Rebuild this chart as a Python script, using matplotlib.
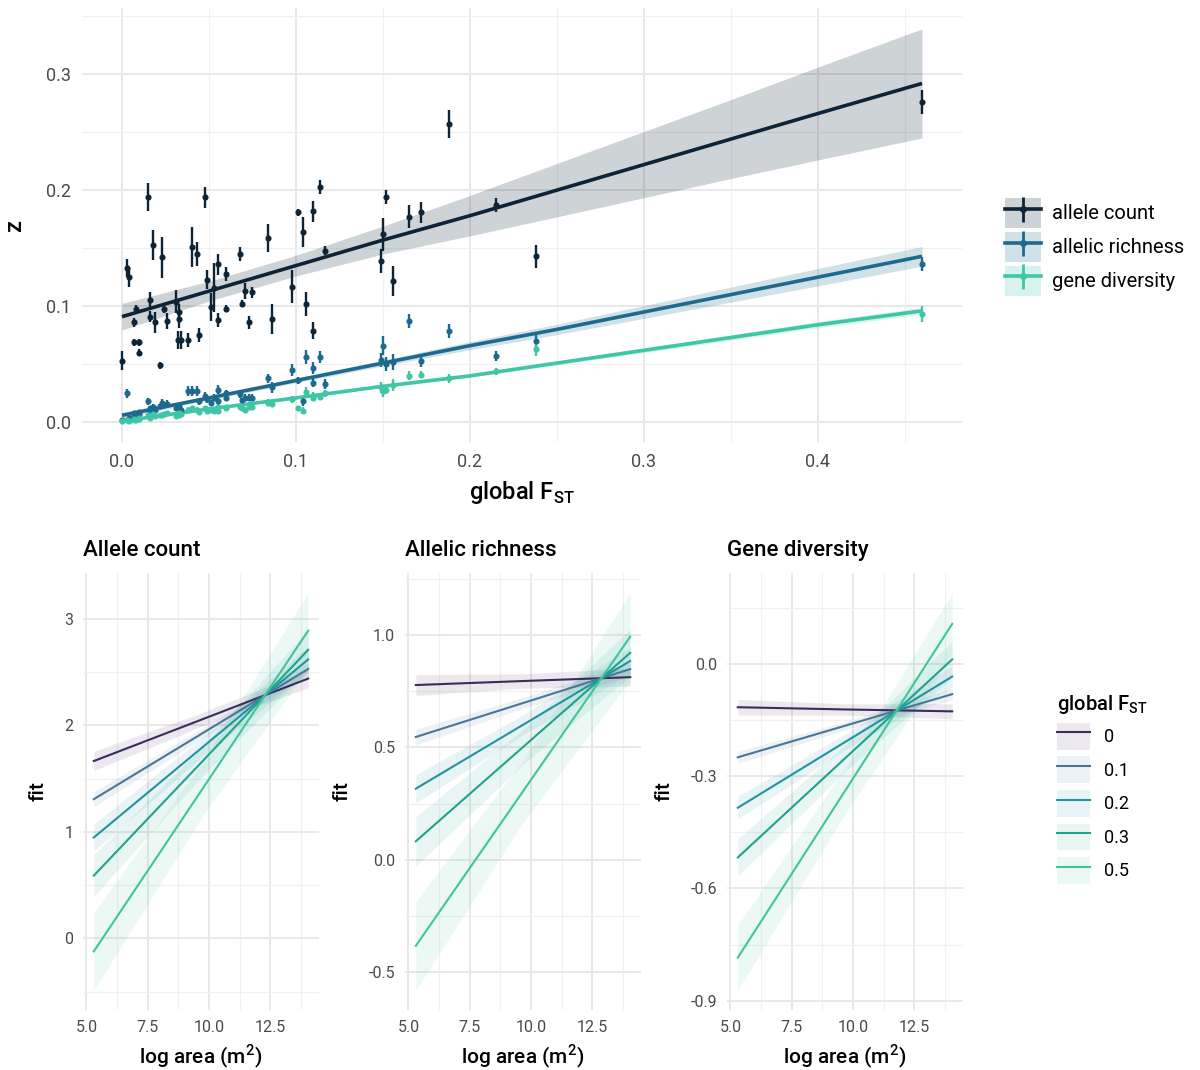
import matplotlib
matplotlib.use("Agg")
import matplotlib.pyplot as plt
from matplotlib.lines import Line2D
from matplotlib.patches import Patch
from matplotlib.ticker import MultipleLocator

plt.rcParams["font.family"] = ["Roboto", "DejaVu Sans"]

# ---- top panel data: z against global FST ----
fst = [0.000, 0.003, 0.004, 0.007, 0.007, 0.010, 0.008, 0.010, 0.015, 0.016,
       0.016, 0.018, 0.019, 0.022, 0.023, 0.024, 0.026, 0.031, 0.032, 0.033,
       0.033, 0.034, 0.038, 0.040, 0.043, 0.044, 0.048, 0.049, 0.051, 0.053,
       0.055, 0.055, 0.060, 0.060, 0.068, 0.069, 0.071, 0.073, 0.075, 0.084,
       0.086, 0.098, 0.101, 0.104, 0.106, 0.110, 0.110, 0.114, 0.117, 0.149,
       0.150, 0.152, 0.156, 0.165, 0.172, 0.188, 0.215, 0.238, 0.460]

z_count = [0.053, 0.133, 0.125, 0.086, 0.069, 0.069, 0.098, 0.060, 0.194, 0.105,
           0.091, 0.153, 0.086, 0.049, 0.142, 0.098, 0.087, 0.104, 0.071, 0.095,
           0.089, 0.071, 0.071, 0.151, 0.145, 0.075, 0.194, 0.123, 0.099, 0.116,
           0.136, 0.088, 0.128, 0.098, 0.145, 0.102, 0.113, 0.086, 0.112, 0.159,
           0.089, 0.117, 0.181, 0.164, 0.102, 0.182, 0.079, 0.203, 0.148, 0.139,
           0.162, 0.194, 0.122, 0.177, 0.181, 0.257, 0.187, 0.143, 0.276]
err_count = [0.008, 0.008, 0.008, 0.004, 0.003, 0.003, 0.003, 0.003, 0.012, 0.007,
             0.005, 0.013, 0.009, 0.003, 0.018, 0.004, 0.007, 0.010, 0.008, 0.007,
             0.008, 0.008, 0.006, 0.017, 0.010, 0.006, 0.009, 0.008, 0.012, 0.021,
             0.009, 0.006, 0.006, 0.003, 0.006, 0.003, 0.007, 0.006, 0.005, 0.012,
             0.013, 0.014, 0.003, 0.013, 0.010, 0.009, 0.007, 0.006, 0.004, 0.010,
             0.014, 0.006, 0.013, 0.010, 0.009, 0.012, 0.006, 0.010, 0.010]

z_rich = [0.002, 0.025, 0.004, 0.006, 0.008, 0.007, 0.005, 0.009, 0.018, 0.010,
          0.012, 0.013, 0.011, 0.014, 0.017, 0.015, 0.016, 0.012, 0.013, 0.012,
          0.014, 0.011, 0.027, 0.027, 0.027, 0.018, 0.023, 0.020, 0.017, 0.021,
          0.028, 0.018, 0.025, 0.021, 0.024, 0.019, 0.021, 0.021, 0.021, 0.038,
          0.030, 0.045, 0.036, 0.018, 0.056, 0.047, 0.034, 0.056, 0.033, 0.054,
          0.066, 0.050, 0.052, 0.087, 0.053, 0.079, 0.057, 0.070, 0.136]
err_rich = [0.002, 0.004, 0.002, 0.002, 0.002, 0.002, 0.002, 0.002, 0.003, 0.002,
            0.002, 0.003, 0.002, 0.002, 0.003, 0.002, 0.003, 0.002, 0.002, 0.002,
            0.003, 0.002, 0.004, 0.004, 0.004, 0.003, 0.003, 0.003, 0.002, 0.003,
            0.004, 0.003, 0.003, 0.002, 0.003, 0.002, 0.003, 0.003, 0.003, 0.004,
            0.005, 0.005, 0.003, 0.004, 0.006, 0.005, 0.004, 0.005, 0.004, 0.006,
            0.008, 0.006, 0.007, 0.006, 0.005, 0.006, 0.004, 0.006, 0.006]

z_gene = [0.001, 0.002, 0.001, 0.002, 0.003, 0.003, 0.002, 0.004, 0.006, 0.004,
          0.005, 0.007, 0.005, 0.006, 0.006, 0.007, 0.008, 0.005, 0.007, 0.006,
          0.008, 0.007, 0.011, 0.012, 0.011, 0.009, 0.012, 0.010, 0.011, 0.010,
          0.013, 0.010, 0.012, 0.013, 0.013, 0.012, 0.011, 0.013, 0.013, 0.017,
          0.016, 0.020, 0.012, 0.010, 0.026, 0.023, 0.021, 0.022, 0.025, 0.030,
          0.027, 0.028, 0.032, 0.040, 0.041, 0.038, 0.044, 0.063, 0.093]
err_gene = [0.001, 0.001, 0.001, 0.001, 0.001, 0.001, 0.001, 0.001, 0.002, 0.001,
            0.001, 0.002, 0.001, 0.001, 0.002, 0.001, 0.002, 0.001, 0.001, 0.001,
            0.002, 0.001, 0.002, 0.002, 0.002, 0.002, 0.002, 0.002, 0.002, 0.002,
            0.002, 0.002, 0.002, 0.002, 0.002, 0.002, 0.002, 0.002, 0.002, 0.003,
            0.003, 0.003, 0.002, 0.003, 0.004, 0.003, 0.003, 0.003, 0.003, 0.005,
            0.005, 0.004, 0.005, 0.004, 0.003, 0.004, 0.003, 0.006, 0.007]

# regression lines + confidence ribbons (read at these FST values)
fit_x = [0.0, 0.05, 0.1, 0.15, 0.2, 0.25, 0.3, 0.35, 0.4, 0.46]
fit_count = [0.091, 0.113, 0.135, 0.157, 0.178, 0.200, 0.222, 0.244, 0.266, 0.292]
hw_count = [0.0115, 0.0085, 0.0089, 0.012, 0.0174, 0.023, 0.0285, 0.034, 0.040, 0.047]
fit_rich = [0.006, 0.021, 0.036, 0.051, 0.066, 0.080, 0.095, 0.110, 0.125, 0.143]
hw_rich = [0.0025, 0.0018, 0.002, 0.0025, 0.0035, 0.0045, 0.0055, 0.0065, 0.0075, 0.0085]
fit_gene = [0.001, 0.0115, 0.021, 0.031, 0.040, 0.051, 0.062, 0.073, 0.084, 0.096]
hw_gene = [0.0008, 0.0006, 0.0007, 0.0009, 0.0012, 0.0016, 0.002, 0.0024, 0.0027, 0.003]

series_names = ["allele count", "allelic richness", "gene diversity"]
series_cols = ["#0c2435", "#1d6a8e", "#3ec6a6"]

# ---- bottom panels: model fit against log area for several FST ----
fst_levels = ["0", "0.1", "0.2", "0.3", "0.5"]
fst_cols = ["#3b2c5c", "#4a7798", "#2493a0", "#1fa38e", "#42c49b"]
area_x = [5.3, 9.7, 14.04]

ac_fit = [[1.665, 2.055, 2.440], [1.307, 1.922, 2.530], [0.947, 1.789, 2.620],
          [0.589, 1.656, 2.710], [-0.123, 1.393, 2.890]]
ac_hw = [[0.090, 0.063, 0.085], [0.070, 0.048, 0.060], [0.127, 0.089, 0.120],
         [0.197, 0.138, 0.190], [0.364, 0.255, 0.355]]
ar_fit = [[0.777, 0.795, 0.812], [0.546, 0.698, 0.848], [0.316, 0.602, 0.884],
          [0.082, 0.504, 0.920], [-0.383, 0.309, 0.992]]
ar_hw = [[0.046, 0.032, 0.040], [0.035, 0.024, 0.030], [0.063, 0.044, 0.060],
         [0.110, 0.077, 0.105], [0.197, 0.138, 0.195]]
gd_fit = [[-0.115, -0.121, -0.126], [-0.249, -0.164, -0.080], [-0.384, -0.207, -0.033],
          [-0.517, -0.250, 0.013], [-0.785, -0.336, 0.108]]
gd_hw = [[0.021, 0.015, 0.020], [0.016, 0.011, 0.015], [0.030, 0.021, 0.029],
         [0.050, 0.035, 0.048], [0.087, 0.061, 0.083]]

panel_titles = ["Allele count", "Allelic richness", "Gene diversity"]
panel_yticks = [[0, 1, 2, 3], [-0.5, 0.0, 0.5, 1.0], [-0.9, -0.6, -0.3, 0.0]]
panel_fmt = ["{:.0f}", "{:.1f}", "{:.1f}"]

W, H = 1200, 1070
fig = plt.figure(figsize=(W / 100, H / 100), dpi=100)


def px_axes(left, top, right, bottom):
    return fig.add_axes([left / W, 1 - bottom / H, (right - left) / W, (bottom - top) / H])


def style_axes(ax):
    for s in ax.spines.values():
        s.set_visible(False)
    ax.grid(True, which="major", color="#e8e8e8", lw=1.4)
    ax.grid(True, which="minor", color="#f0f0f0", lw=0.9)
    ax.tick_params(which="both", length=0, colors="#4a4a4a")
    ax.set_axisbelow(True)


# ---------------- top plot ----------------
ax = px_axes(82, 8, 962, 442)
style_axes(ax)
ys = [z_count, z_rich, z_gene]
es = [err_count, err_rich, err_gene]
fits = [fit_count, fit_rich, fit_gene]
hws = [hw_count, hw_rich, hw_gene]
for y, e, f, hw, col in zip(ys, es, fits, hws, series_cols):
    lo = [a - b for a, b in zip(f, hw)]
    hi = [a + b for a, b in zip(f, hw)]
    ax.fill_between(fit_x, lo, hi, color=col, alpha=0.2, lw=0)
    ax.errorbar(fst, y, yerr=e, fmt="o", ms=3.4, color=col, elinewidth=1.7, capsize=0)
    ax.plot(fit_x, f, color=col, lw=2.6, solid_capstyle="butt")

ax.set_xlim(-0.023, 0.483)
ax.set_ylim(-0.017, 0.357)
ax.xaxis.set_minor_locator(MultipleLocator(0.05))
ax.yaxis.set_minor_locator(MultipleLocator(0.05))
ax.set_xticks([0, 0.1, 0.2, 0.3, 0.4])
ax.set_xticklabels(["0.0", "0.1", "0.2", "0.3", "0.4"], fontsize=13)
ax.set_yticks([0, 0.1, 0.2, 0.3])
ax.set_yticklabels(["0.0", "0.1", "0.2", "0.3"], fontsize=13)
ax.tick_params(axis="x", pad=8)
ax.tick_params(axis="y", pad=8)
ax.set_xlabel("global F$_\\mathregular{ST}$", fontsize=17, fontweight="medium", labelpad=6)
ax.set_ylabel("z", fontsize=17, fontweight="medium", labelpad=14)

handles = []
for col in series_cols:
    handles.append((Patch(facecolor=col, alpha=0.2, edgecolor="none"),
                    Line2D([], [], color=col, lw=2.6),
                    Line2D([], [], color=col, marker="|", ms=18, mew=2, ls="none"),
                    Line2D([], [], color=col, marker="o", ms=4, ls="none")))
leg = fig.legend(handles, series_names, loc="upper left", bbox_to_anchor=(995 / W, 1 - 188 / H),
                 frameon=False, fontsize=14.5, handlelength=1.8, handleheight=1.9,
                 labelspacing=0.2, handletextpad=0.55, borderpad=0)

# ---------------- bottom panels ----------------
panel_fits = [ac_fit, ar_fit, gd_fit]
panel_hws = [ac_hw, ar_hw, gd_hw]
panel_lefts = [83, 405, 727]
for i in range(3):
    bx = px_axes(panel_lefts[i], 573, panel_lefts[i] + 236, 1010)
    style_axes(bx)
    for f, hw, col in zip(panel_fits[i], panel_hws[i], fst_cols):
        lo = [a - b for a, b in zip(f, hw)]
        hi = [a + b for a, b in zip(f, hw)]
        bx.fill_between(area_x, lo, hi, color=col, alpha=0.1, lw=0)
        bx.plot(area_x, f, color=col, lw=1.5)
    bx.set_xlim(4.86, 14.48)
    bx.set_xticks([5.0, 7.5, 10.0, 12.5])
    bx.xaxis.set_minor_locator(MultipleLocator(1.25))
    bx.set_xticklabels(["5.0", "7.5", "10.0", "12.5"], fontsize=11.5)
    yt = panel_yticks[i]
    bx.set_yticks(yt)
    step = yt[1] - yt[0]
    bx.yaxis.set_minor_locator(MultipleLocator(step / 2))
    bx.set_yticklabels([panel_fmt[i].format(v) for v in yt], fontsize=11.5)
    bx.tick_params(axis="x", pad=7)
    bx.tick_params(axis="y", pad=7)
    bx.set_xlabel("log area (m$^\\mathregular{2}$)", fontsize=15, fontweight="medium", labelpad=6)
    bx.set_ylabel("fit", fontsize=15, fontweight="medium", labelpad=12)
    bx.set_title(panel_titles[i], loc="left", fontsize=16, fontweight="medium", pad=12)
    bx.margins(y=0.05)

handles2 = []
for col in fst_cols:
    handles2.append((Patch(facecolor=col, alpha=0.1, edgecolor="none"),
                     Line2D([], [], color=col, lw=1.5)))
leg2 = fig.legend(handles2, fst_levels, loc="upper left", bbox_to_anchor=(1048 / W, 1 - 684 / H),
                  frameon=False, fontsize=13, handlelength=1.8, handleheight=1.9,
                  labelspacing=0.38, handletextpad=0.8, borderpad=0,
                  title="global F$_\\mathregular{ST}$", title_fontsize=14.5, alignment="left")
leg2.get_title().set_fontweight("medium")

fig.savefig("out.png", dpi=100)
